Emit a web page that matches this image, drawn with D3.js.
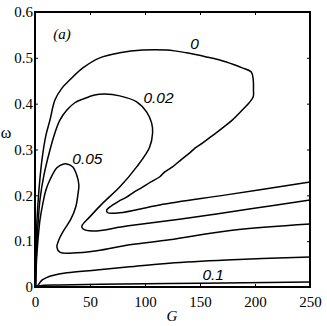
<!DOCTYPE html>
<html lang="en">
<head>
<meta charset="UTF-8">
<title>contours</title>
<script src="https://d3js.org/d3.v7.min.js"></script>
<style>
  body { margin: 0; background: #fff; }
  .contour { fill: none; stroke: #000; stroke-width: 1.5; }
  .tick text { font-family: "Liberation Serif", "Times New Roman", serif; font-size: 15px; fill: #000; }
  .tick line { stroke: #000; stroke-width: 1; }
  .lbl { font-family: "Liberation Sans", Arial, sans-serif; font-style: italic; font-size: 15.5px; }
</style>
</head>
<body>
<script>
// contour levels, each as [G, omega] pairs
var level0 = [[0.5,0],[0.9,0.08],[1.8,0.146],[3.6,0.212],[6.3,0.277],[10,0.332],[13.6,0.364],[18.1,0.408],
  [24.5,0.434],[31.7,0.452],[43.5,0.478],[58.9,0.5],[77,0.511],[97.8,0.517],[119.6,0.517],[137.7,0.511],
  [155.8,0.502],[173.9,0.491],[188.4,0.478],[196.6,0.469],[198.4,0.452],[198.6,0.43],[198.4,0.415],
  [194.7,0.402],[188.4,0.386],[179.3,0.364],[172,0.35],[165,0.337],[160,0.328],[152.2,0.314],[146,0.304],
  [140.4,0.292],[133,0.278],[125,0.262],[118,0.251],[113.2,0.24],[105,0.229],[97.8,0.218],[90,0.207],
  [83.3,0.196],[76,0.187],[70.7,0.179],[65.2,0.168],[66.1,0.162],[77,0.162],[113.2,0.179],[173.9,0.201],[250,0.229]];
var level002 = [[0.5,0],[1.4,0.08],[2.7,0.135],[4.5,0.19],[8.2,0.245],[13.6,0.299],[18.1,0.336],[22.6,0.364],
  [29,0.386],[36.2,0.402],[43.5,0.41],[54.3,0.419],[63.4,0.421],[77,0.417],[92.4,0.404],[101.4,0.382],
  [106,0.358],[106.9,0.336],[104.2,0.305],[92.4,0.262],[77,0.218],[61.6,0.183],[49.8,0.153],[42.6,0.133],
  [43.5,0.127],[52.5,0.122],[83.3,0.133],[131.3,0.148],[194.7,0.17],[250,0.19]];
var level005 = [[0.5,0],[1.4,0.059],[2.7,0.102],[4.5,0.146],[7.2,0.183],[10,0.212],[13.6,0.234],[19.9,0.26],
  [25.4,0.268],[29.9,0.268],[34.4,0.262],[38,0.244],[39.9,0.222],[38.9,0.2],[37.1,0.175],[32.6,0.148],
  [26.3,0.124],[21.7,0.103],[19.9,0.087],[22.6,0.076],[34.4,0.074],[56.2,0.079],[86.1,0.092],[122.3,0.103],
  [179.3,0.124],[250,0.1375]];
var level007 = [[0.5,0],[2.7,0.004],[4.5,0.01],[6.3,0.015],[10,0.02],[16,0.025],[29,0.031],[56,0.037],
  [86,0.044],[122,0.052],[174,0.059],[250,0.0655]];
var level01 = [[0.5,0],[4.5,0.003],[22.6,0.0044],[58.9,0.0059],[149.5,0.0081],[250,0.011]];

var levels = [level0, level002, level005, level007, level01];
var labelText = ["0", "0.02", "0.05", "0.1"];
var labelPos = [[145,0.532],[112.3,0.4135],[47.6,0.28],[162,0.028]];

var xTicks = [0, 50, 100, 150, 200, 250];
var yTicks = [0, 0.1, 0.2, 0.3, 0.4, 0.5, 0.6];

var W = 327, H = 326;
var serif = "Liberation Serif, Times New Roman, serif";
var x = d3.scaleLinear().domain([0, 250]).range([35, 310]);
var y = d3.scaleLinear().domain([0, 0.6]).range([287, 12]);

var svg = d3.select("body").append("svg")
    .attr("width", W)
    .attr("height", H);

var line = d3.line()
    .x(function(d) { return x(d[0]); })
    .y(function(d) { return y(d[1]); })
    .curve(d3.curveCatmullRom.alpha(0.5));

svg.selectAll(".contour")
    .data(levels)
  .enter().append("path")
    .attr("class", "contour")
    .attr("d", line);

// axes, ticks point inward
svg.append("g")
    .attr("transform", "translate(0,287)")
    .call(d3.axisBottom(x).tickValues(xTicks).tickSizeInner(-3).tickSizeOuter(0).tickPadding(9))
    .attr("font-family", serif).attr("font-size", 15);
svg.append("g")
    .attr("transform", "translate(35,0)")
    .call(d3.axisLeft(y).tickValues(yTicks).tickFormat(d3.format("")).tickSizeInner(-3).tickSizeOuter(0).tickPadding(2))
    .attr("font-family", serif).attr("font-size", 15);
svg.append("g")
    .attr("transform", "translate(0,12)")
    .call(d3.axisTop(x).tickValues(xTicks).tickFormat("").tickSizeInner(-3).tickSizeOuter(0));
svg.append("g")
    .attr("transform", "translate(310,0)")
    .call(d3.axisRight(y).tickValues(yTicks).tickFormat("").tickSizeInner(-3).tickSizeOuter(0));
svg.selectAll(".domain").remove();

svg.append("rect")
    .attr("x", 35).attr("y", 12)
    .attr("width", 275).attr("height", 275)
    .attr("fill", "none")
    .attr("stroke", "#000")
    .attr("stroke-width", 2);

// contour labels
svg.selectAll(".lbl")
    .data(labelText)
  .enter().append("text")
    .attr("class", "lbl")
    .attr("x", function(d, i) { return x(labelPos[i][0]); })
    .attr("y", function(d, i) { return y(labelPos[i][1]); })
    .attr("text-anchor", "middle")
    .attr("dy", "0.36em")
    .text(function(d) { return d; });

svg.append("text")
    .attr("x", 62).attr("y", 39)
    .attr("text-anchor", "middle")
    .style("font-family", serif)
    .style("font-style", "italic")
    .style("font-size", "15px")
    .text("(a)");

svg.append("text")
    .attr("x", 6).attr("y", 138)
    .attr("text-anchor", "middle")
    .style("font-family", serif)
    .style("font-size", "16px")
    .text("ω");

svg.append("text")
    .attr("x", 172).attr("y", 321)
    .attr("text-anchor", "middle")
    .style("font-family", serif)
    .style("font-style", "italic")
    .style("font-size", "15px")
    .text("G");
</script>
</body>
</html>
